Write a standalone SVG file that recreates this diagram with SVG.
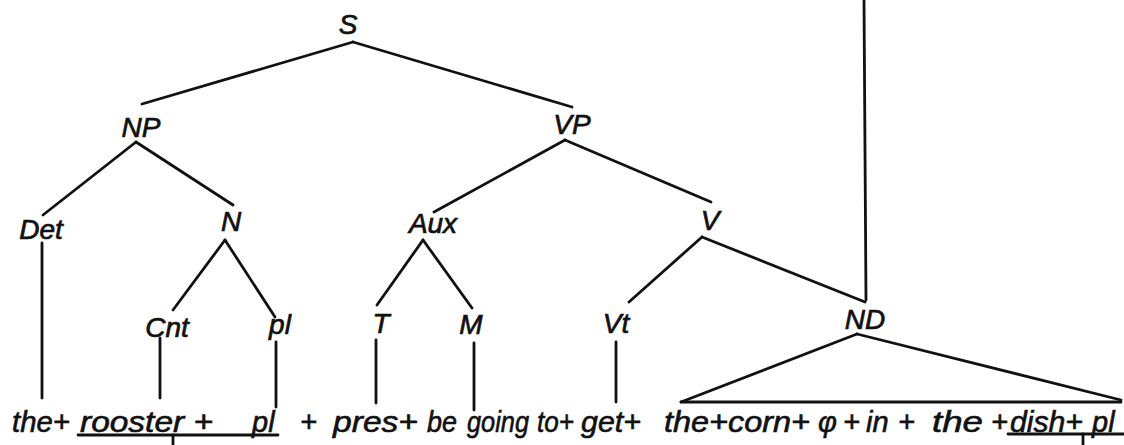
<svg xmlns="http://www.w3.org/2000/svg" width="1124" height="445" viewBox="0 0 1124 445">
<style>
.lbl{font-family:"Liberation Sans","DejaVu Sans",sans-serif;font-style:italic;font-size:28px;fill:#111;stroke:#111;stroke-width:0.7;text-anchor:middle}
.w{font-family:"Liberation Sans","DejaVu Sans",sans-serif;font-style:italic;font-size:29px;fill:#111;stroke:#111;stroke-width:0.6}
.c line{stroke:#111;stroke-width:2.8;stroke-linecap:round;fill:none}
</style>
<rect width="1124" height="445" fill="#fff"/>
<g id="connectors" class="c">
<line x1="353" y1="42" x2="142" y2="104"/>
<line x1="353" y1="42" x2="572" y2="107"/>
<line x1="136" y1="142" x2="43" y2="215"/>
<line x1="136" y1="142" x2="233" y2="205"/>
<line x1="565" y1="140" x2="434" y2="212"/>
<line x1="565" y1="140" x2="711" y2="202"/>
<line x1="225" y1="240" x2="173" y2="310"/>
<line x1="225" y1="240" x2="275" y2="317"/>
<line x1="423" y1="240" x2="377" y2="305"/>
<line x1="423" y1="240" x2="472" y2="308"/>
<line x1="702" y1="237" x2="629" y2="302"/>
<line x1="702" y1="237" x2="865" y2="302"/>
<line x1="864" y1="0" x2="866" y2="300"/>
<line x1="42" y1="243" x2="42" y2="398"/>
<line x1="160" y1="338" x2="160" y2="398"/>
<line x1="276" y1="342" x2="276" y2="407"/>
<line x1="376" y1="340" x2="376" y2="403"/>
<line x1="474" y1="343" x2="474" y2="410"/>
<line x1="616" y1="342" x2="616" y2="402"/>
<line x1="857" y1="334" x2="681" y2="402"/>
<line x1="857" y1="334" x2="1121" y2="400"/>
<line x1="681" y1="402" x2="1121" y2="402"/>
<line x1="78" y1="435" x2="278" y2="435"/>
<line x1="173" y1="435" x2="173" y2="445"/>
<line x1="1008" y1="434" x2="1124" y2="434"/>
<line x1="1083" y1="434" x2="1083" y2="445"/>
</g>
<g id="node-S"><text class="lbl" x="348" y="34">S</text></g>
<g id="node-NP"><text class="lbl" x="141" y="137">NP</text></g>
<g id="node-VP"><text class="lbl" x="572" y="134">VP</text></g>
<g id="node-Det"><text class="lbl" x="41" y="239">Det</text></g>
<g id="node-N"><text class="lbl" x="231" y="231">N</text></g>
<g id="node-Aux"><text class="lbl" x="433" y="233">Aux</text></g>
<g id="node-V"><text class="lbl" x="710" y="230">V</text></g>
<g id="node-Cnt"><text class="lbl" x="167" y="337">Cnt</text></g>
<g id="node-pl"><text class="lbl" x="280" y="334">pl</text></g>
<g id="node-T"><text class="lbl" x="381" y="333">T</text></g>
<g id="node-M"><text class="lbl" x="471" y="334">M</text></g>
<g id="node-Vt"><text class="lbl" x="616" y="333">Vt</text></g>
<g id="node-ND"><text class="lbl" x="865" y="329">ND</text></g>
<g id="terminal-string">
<text class="w" x="12" y="432" textLength="58" lengthAdjust="spacingAndGlyphs">the+</text>
<text class="w" x="80" y="432" textLength="133" lengthAdjust="spacingAndGlyphs">rooster +</text>
<text class="w" x="252" y="432">pl</text>
<text class="w" x="300" y="432">+</text>
<text class="w" x="333" y="432" textLength="85" lengthAdjust="spacingAndGlyphs">pres+</text>
<text class="w" x="427" y="432" textLength="30" lengthAdjust="spacingAndGlyphs">be</text>
<text class="w" x="467" y="432" textLength="62" lengthAdjust="spacingAndGlyphs">going</text>
<text class="w" x="537" y="432" textLength="37" lengthAdjust="spacingAndGlyphs">to+</text>
<text class="w" x="581" y="432" textLength="60" lengthAdjust="spacingAndGlyphs">get+</text>
<text class="w" x="664" y="432" textLength="146" lengthAdjust="spacingAndGlyphs">the+corn+</text>
<text class="w" x="818" y="432">φ</text>
<text class="w" x="843" y="432">+</text>
<text class="w" x="866" y="432">in</text>
<text class="w" x="898" y="432">+</text>
<text class="w" x="932" y="432" textLength="51" lengthAdjust="spacingAndGlyphs">the</text>
<text class="w" x="991" y="432">+</text>
<text class="w" x="1010" y="432" textLength="73" lengthAdjust="spacingAndGlyphs">dish+</text>
<text class="w" x="1092" y="432">pl</text>
</g>
</svg>
